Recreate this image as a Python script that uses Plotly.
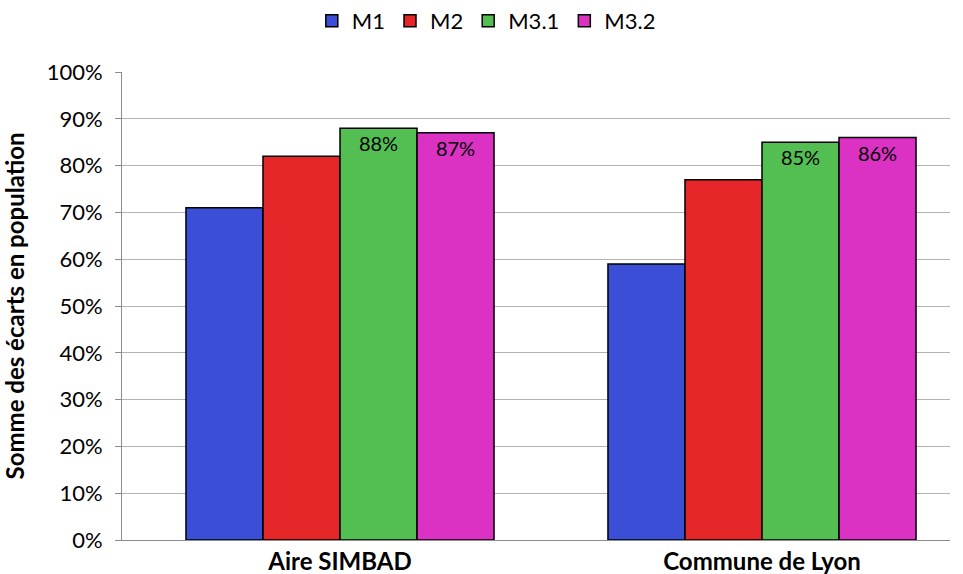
import plotly.graph_objects as go

categories = ["Aire SIMBAD", "Commune de Lyon"]
series_names = ["M1", "M2", "M3.1", "M3.2"]
m1 = [0.71, 0.59]
m2 = [0.82, 0.77]
m31 = [0.88, 0.85]
m32 = [0.87, 0.86]
show_labels = [False, False, True, True]
y_ticks = [0, 0.1, 0.2, 0.3, 0.4, 0.5, 0.6, 0.7, 0.8, 0.9, 1.0]

colors = ["#3a4fd6", "#e52629", "#53bf52", "#db32c3"]
font_family = "Lato, 'Open Sans', sans-serif"

fig = go.Figure()
for name, vals, color, lab in zip(series_names, [m1, m2, m31, m32], colors, show_labels):
    fig.add_trace(go.Bar(
        x=categories,
        y=vals,
        name=name,
        marker=dict(color=color, line=dict(color="black", width=1.5)),
        text=[f"{round(v * 100)}%" for v in vals] if lab else None,
        textposition="inside" if lab else "none",
        insidetextanchor="end",
        textfont=dict(color="black", size=20, family=font_family),
        textangle=0,
    ))

fig.update_layout(
    width=963,
    height=574,
    autosize=False,
    margin=dict(t=72, b=34, l=122, r=13),
    plot_bgcolor="white",
    paper_bgcolor="white",
    barmode="group",
    bargap=0.27,
    bargroupgap=0,
    font=dict(family=font_family, size=22, color="black"),
    showlegend=True,
    legend=dict(
        orientation="h",
        xref="container", yref="container",
        x=0.505, y=1.0,
        xanchor="center", yanchor="top",
        font=dict(size=22),
        itemwidth=30,
        traceorder="normal",
    ),
    uniformtext=dict(minsize=10, mode="show"),
)

fig.update_yaxes(
    range=[0, 1.0],
    tickvals=y_ticks,
    tickformat=".0%",
    showgrid=True,
    gridcolor="#b3b3b3",
    gridwidth=1,
    showline=True,
    linecolor="#8c8c8c",
    linewidth=1,
    ticks="outside",
    ticklen=6,
    tickcolor="#8c8c8c",
    tickfont=dict(size=22),
    ticklabelstandoff=8,
    zeroline=False,
    automargin=False,
    title=dict(text="<b>Somme des écarts en population</b>", font=dict(size=24), standoff=17),
)
# Excel-like layout: categories are not centred evenly in the plot area
fig.update_xaxes(
    type="category",
    range=[-0.5166, 1.4455],
    showline=True,
    linecolor="#8c8c8c",
    linewidth=1,
    ticks="",
    tickfont=dict(size=24),
    automargin=False,
    tickvals=categories,
    ticktext=[f"<b>{c}</b>" for c in categories],
)

# the default page has an 8px body margin; drop it so the figure sits at 0,0
fig.write_html("out.html", config={"displayModeBar": False},
               post_script="document.body.style.margin='0';")
